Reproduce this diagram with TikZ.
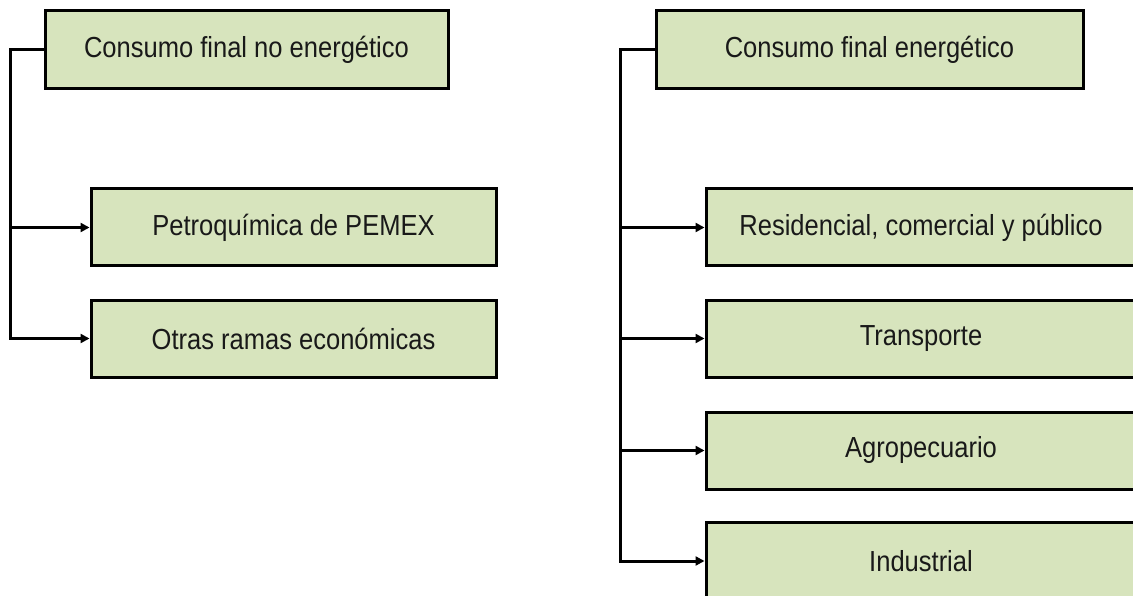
\documentclass[tikz,border=0pt]{standalone}
\usepackage{fontspec}
\setmainfont{Liberation Sans}[FakeStretch=0.88]
\usetikzlibrary{arrows.meta}
\definecolor{boxgreen}{HTML}{D7E4BD}
\tikzset{
  catbox/.style={draw=black, fill=boxgreen, line width=3pt, rectangle,
    inner sep=0pt, font=\fontsize{29}{34}\selectfont, text=black!90},
  link/.style={draw=black, line width=3pt},
  arr/.style={link, -{Triangle[length=9pt,width=9pt]}}
}
\begin{document}
\begin{tikzpicture}[x=1pt,y=-1pt]
\useasboundingbox (0,0) rectangle (1133,596);
\clip (0,0) rectangle (1133,596);
\fill[white] (0,0) rectangle (1133,596);
% left group
\node[catbox, minimum width=403pt, minimum height=78pt] (tl) at (246.5,50) {Consumo final no energético};
\node[catbox, minimum width=405pt, minimum height=77pt] (pe) at (293.5,227.5) {Petroquímica de PEMEX};
\node[catbox, minimum width=405pt, minimum height=77pt] (ot) at (293.5,338.5) {Otras ramas económicas};
% right group
\node[catbox, minimum width=427pt, minimum height=78pt] (tr) at (869.5,50) {Consumo final energético};
\node[catbox, minimum width=430pt, minimum height=77pt] (re) at (921,227.5) {Residencial, comercial y público};
\node[catbox, minimum width=430pt, minimum height=77pt] (trn) at (921,338.5) {Transporte};
\node[catbox, minimum width=430pt, minimum height=77pt] (ag) at (921,450.5) {Agropecuario};
\node[catbox, minimum width=430pt, minimum height=77pt] (in) at (921,561) {Industrial};
% left connectors
\draw[arr] (tl.west) -- ++(-33,0) coordinate (lc) |- (ot.west);
\draw[arr] (lc |- pe.west) -- (pe.west);
% right connectors
\draw[arr] (tr.west) -- ++(-34,0) coordinate (rc) |- (in.west);
\draw[arr] (rc |- re.west) -- (re.west);
\draw[arr] (rc |- trn.west) -- (trn.west);
\draw[arr] (rc |- ag.west) -- (ag.west);
\end{tikzpicture}
\end{document}
